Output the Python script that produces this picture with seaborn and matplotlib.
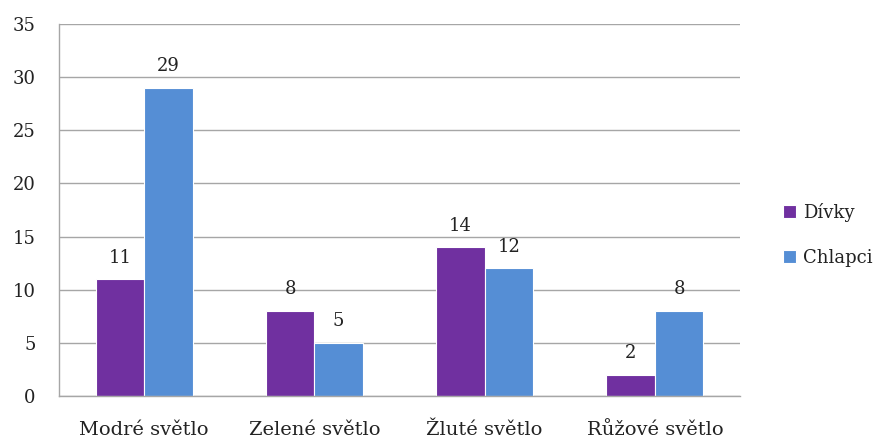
import matplotlib
matplotlib.use("Agg")
import matplotlib.pyplot as plt
import seaborn as sns
import pandas as pd

categories = ["Modré světlo", "Zelené světlo", "Žluté světlo", "Růžové světlo"]
divky = [11, 8, 14, 2]
chlapci = [29, 5, 12, 8]
series = ["Dívky", "Chlapci"]
yticks = [0, 5, 10, 15, 20, 25, 30, 35]

df = pd.DataFrame({
    "kat": categories * 2,
    "val": divky + chlapci,
    "ser": [series[0]] * 4 + [series[1]] * 4,
})

sns.set_theme(style="white")
plt.rcParams['font.family'] = ['DejaVu Serif']

fig = plt.figure(figsize=(8.75, 4.42), dpi=100)
ax = fig.add_axes([59/875, 1-396/442, (740-59)/875, (396-24)/442])
palette = {"Dívky": "#7030A0", "Chlapci": "#558ED5"}
sns.barplot(data=df, x="kat", y="val", hue="ser", palette=palette, ax=ax,
            width=0.57, edgecolor="white", linewidth=0.8, saturation=1, legend=True)

for cont in ax.containers:
    ax.bar_label(cont, padding=9, fontsize=13, color="#222222")

ax.set_ylim(0, 35)
ax.set_yticks(yticks)
ax.set_yticklabels([str(v) for v in yticks], fontsize=13, color="#222222")
ax.tick_params(axis="x", labelsize=14, colors="#222222", pad=18, length=0)
ax.tick_params(axis="y", length=0, pad=17)
ax.set_xlabel("")
ax.set_ylabel("")
ax.yaxis.grid(True, color="#A6A6A6", linewidth=1)
ax.set_axisbelow(True)
for s in ["top", "right"]:
    ax.spines[s].set_visible(False)
for s in ["left", "bottom"]:
    ax.spines[s].set_color("#A6A6A6")
    ax.spines[s].set_linewidth(1)

leg = ax.legend(loc="center left", bbox_to_anchor=(1.04, 0.433), frameon=False,
                fontsize=13, handlelength=0.7, handleheight=0.7,
                labelspacing=1.5, handletextpad=0.4)
for t in leg.get_texts():
    t.set_color("#222222")

fig.savefig("out.png", dpi=100)
